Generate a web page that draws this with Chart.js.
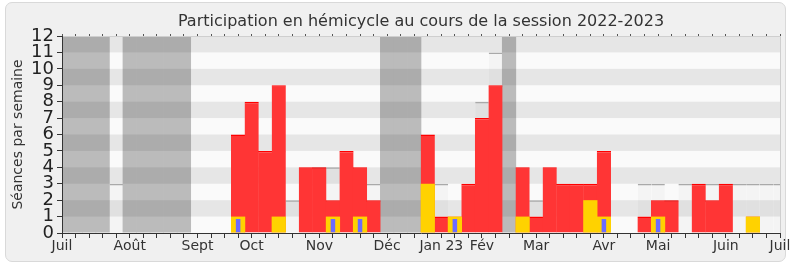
<!DOCTYPE html>
<html lang="fr">
<head>
<meta charset="utf-8">
<title>Participation en hémicycle</title>
<script src="https://cdn.jsdelivr.net/npm/chart.js@4.4.1/dist/chart.umd.min.js"></script>
<style>
  html, body { margin: 0; padding: 0; background: #fff; }
  #frame {
    position: absolute; left: 5px; top: 2px; width: 781px; height: 260px;
    box-sizing: border-box; border: 1px solid #d9d9d9; border-radius: 7px; background: #f0f0f0;
  }
  #chart { position: absolute; left: 0; top: 0; }
</style>
</head>
<body>
<div id="frame"></div>
<canvas id="chart" width="790" height="267"></canvas>
<script>
// semaines de juillet 2022 a juillet 2023 (54 positions)
const monthNames = ['Juil', 'Août', 'Sept', 'Oct', 'Nov', 'Déc', 'Jan 23', 'Fév', 'Mar', 'Avr', 'Mai', 'Juin', 'Juil'];
const monthWeeks = [0, 5, 10, 14, 19, 24, 28, 31, 35, 40, 44, 49, 53];

const vacances = [
  12, 12, 12, 12, null, 12, 12, 12, 12, 12,
  null, null, null, null, null, null, null, null, null, null,
  null, null, null, null, 12, 12, 12, null, null, null,
  null, null, null, 12, null, null, null, null, null, null,
  null, null, null, null, null, null, null, null, null, null,
  null, null, null, null
];
const mediane = [
  null, null, null, null, 3, null, null, null, null, null,
  null, null, null, 5, 7, 4, 5, 2, 3, 4,
  4, 4, 3, 3, null, null, null, 3, 3, null,
  1, 8, 11, null, 2, 2, null, 3, 2, null,
  3, null, null, 3, 3, 2, 3, 3, 3, 3,
  3, 3, 3, 3
];
const presences = [
  null, null, null, null, null, null, null, null, null, null,
  null, null, null, 6, 8, 5, 9, null, 4, 4,
  2, 5, 4, 2, null, null, null, 6, 1, 1,
  3, 7, 9, null, 4, 1, 4, 3, 3, 3,
  5, null, null, 1, 2, 2, null, 3, 2, 3,
  null, 1, null, null
];
const interventions = [
  null, null, null, null, null, null, null, null, null, null,
  null, null, null, 1, null, null, 1, null, null, null,
  1, null, 1, null, null, null, null, 3, null, 1,
  null, null, null, null, 1, null, null, null, null, 2,
  1, null, null, null, 1, null, null, null, null, null,
  null, 1, null, null
];
const questions = [
  null, null, null, null, null, null, null, null, null, null,
  null, null, null, 1, null, null, null, null, null, null,
  1, null, 1, null, null, null, null, null, null, 1,
  null, null, null, null, null, null, null, null, null, null,
  1, null, null, null, 1, null, null, null, null, null,
  null, null, null, null
];

const weekLabels = vacances.map(() => '');
monthWeeks.forEach((w, i) => { weekLabels[w] = monthNames[i]; });

Chart.defaults.font.family = 'DejaVu Sans';

const fond = {
  id: 'fond',
  beforeDatasetsDraw(chart) {
    const { ctx, chartArea: a } = chart;
    ctx.save();
    ctx.fillStyle = '#fafafa';
    ctx.fillRect(a.left, a.top, a.right - a.left, a.bottom - a.top);
    ctx.restore();
  },
  afterDatasetDraw(chart, args) {
    // bandes horizontales, dessinees juste apres les vacances
    if (args.index !== 0) return;
    const { ctx, chartArea: a } = chart;
    const y = chart.scales.y;
    ctx.save();
    ctx.fillStyle = 'rgba(0,0,0,0.08)';
    for (let v = 1; v < 12; v += 2) {
      const t = y.getPixelForValue(v + 1);
      const b = y.getPixelForValue(v);
      ctx.fillRect(a.left, t, a.right - a.left, b - t);
    }
    ctx.restore();
  },
  afterDatasetsDraw(chart) {
    const { ctx, chartArea: a } = chart;
    ctx.save();
    ctx.strokeStyle = '#cfcfcf';
    ctx.lineWidth = 1;
    ctx.beginPath();
    ctx.moveTo(a.left, a.top + 0.5);
    ctx.lineTo(a.right + 0.5, a.top + 0.5);
    ctx.lineTo(a.right + 0.5, a.bottom);
    ctx.stroke();
    ctx.restore();
  }
};

const topOnly = (w) => ({ top: w, right: 0, bottom: 0, left: 0 });

new Chart(document.getElementById('chart'), {
  type: 'bar',
  data: {
    labels: weekLabels,
    datasets: [
      { label: 'Vacances', data: vacances, backgroundColor: '#bbbbbb', borderWidth: 0, order: 5 },
      { label: 'Présence médiane', data: mediane, backgroundColor: 'rgba(0,0,0,0.025)',
        borderColor: '#a9a9a9', borderWidth: topOnly(1.5), barPercentage: 1, order: 4 },
      { label: 'Présences', data: presences, backgroundColor: '#ff3535',
        borderColor: '#ff0000', borderWidth: topOnly(1.5), order: 3 },
      { label: 'Interventions', data: interventions, backgroundColor: '#ffd200', borderWidth: 0, order: 2 },
      { label: 'Questions orales', data: questions, backgroundColor: '#6b6bff',
        borderColor: 'rgba(0,0,0,0)', borderWidth: topOnly(2.5), barPercentage: 0.37, order: 1 }
    ]
  },
  options: {
    responsive: false,
    animation: false,
    events: [],
    layout: { padding: { left: 0, right: 10, top: 0, bottom: 0 } },
    datasets: {
      // un peu plus large que la semaine pour eviter les liseres entre barres
      bar: { grouped: false, categoryPercentage: 1, barPercentage: 1.05, clip: 0, inflateAmount: 0 }
    },
    plugins: {
      legend: { display: false },
      tooltip: { enabled: false },
      title: {
        display: true,
        fullSize: false,
        text: 'Participation en hémicycle au cours de la session 2022-2023',
        color: '#333',
        font: { size: 16, weight: 'normal', lineHeight: 1.25 },
        padding: { top: 12, bottom: 0 }
      }
    },
    scales: {
      x: {
        type: 'category',
        offset: false,
        grid: { offset: false, drawOnChartArea: false, tickLength: 5, color: '#333' },
        border: { display: true, color: '#333', z: 1 },
        ticks: { autoSkip: false, maxRotation: 0, minRotation: 0, padding: 0, color: '#333', font: { size: 14 } },
        afterFit(s) { s.height = 34; s.paddingLeft = 0; s.paddingRight = 0; }
      },
      x2: {
        type: 'category',
        position: 'top',
        labels: weekLabels,
        offset: false,
        grid: { offset: false, drawOnChartArea: false, tickLength: 2, color: '#555' },
        border: { display: false },
        ticks: { display: false },
        afterFit(s) { s.height = 4; s.paddingLeft = 0; s.paddingRight = 0; }
      },
      y: {
        min: 0,
        max: 12,
        ticks: { stepSize: 1, autoSkip: false, padding: 3, color: '#222', font: { size: 18 } },
        grid: { drawOnChartArea: false, tickLength: 5, color: '#333' },
        border: { display: true, color: '#333', z: 1 },
        title: {
          display: true,
          text: 'Séances par semaine',
          color: '#333',
          font: { size: 14 },
          padding: { top: 10, bottom: 0 }
        },
        afterFit(s) { s.width = 62; s.paddingTop = 0; s.paddingBottom = 0; }
      }
    }
  },
  plugins: [fond]
});
</script>
</body>
</html>
